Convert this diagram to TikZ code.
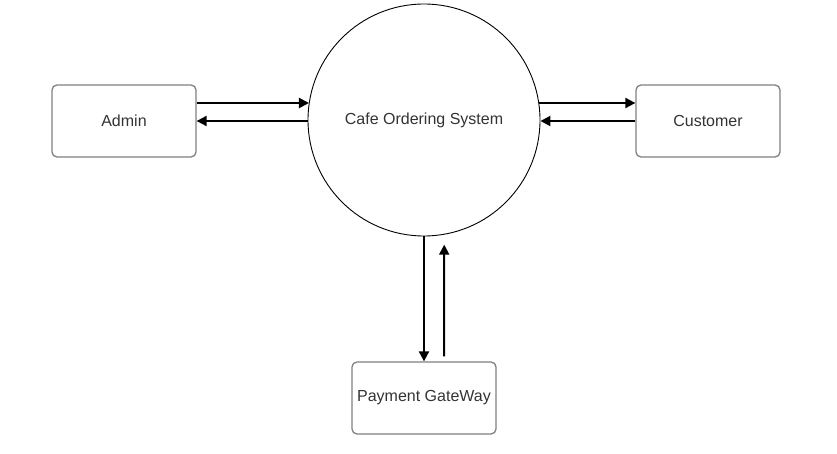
\documentclass[tikz,border=0pt]{standalone}
\usepackage{fontspec}
\setmainfont{Liberation Sans}
\usetikzlibrary{arrows.meta}
\definecolor{boxgray}{RGB}{128,128,128}
\definecolor{txtgray}{RGB}{51,51,51}

\begin{document}
\begin{tikzpicture}[x=1pt, y=1pt,
  entity/.style={draw=boxgray, line width=1.3pt, rounded corners=5pt, minimum width=144pt, minimum height=72pt, text=txtgray, font=\fontsize{16}{19}\selectfont},
  proc/.style={circle, draw=black, line width=0.9pt, minimum size=232pt, inner sep=0pt, text=txtgray, font=\fontsize{16}{19}\selectfont},
  flow/.style={line width=2pt, -{Triangle[length=10pt, width=10pt]}}]

\useasboundingbox (0,0) rectangle (837,453);

% Process
\node[proc] (sys) at (424,333) {Cafe Ordering System};

% Entities
\node[entity] (admin) at (124,332) {Admin};
\node[entity] (customer) at (708,332) {Customer};
\node[entity] (payment) at (424,55) {Payment GateWay};

% Admin flows
\draw[flow] ([yshift=18pt]admin.east) -- ([yshift=18pt]admin.east -| sys.171.6);
\draw[flow] (sys.west |- admin.east) -- (admin.east);

% Customer flows
\draw[flow] ([yshift=18pt]customer.west -| sys.8.4) -- ([yshift=18pt]customer.west);
\draw[flow] (customer.west) -- (sys.east |- customer.west);

% Payment flows
\draw[flow] (sys.south) -- (payment.north);
\draw[flow, shorten <=5pt, shorten >=10pt] ([xshift=20pt]payment.north) -- (sys.-80.07);

\end{tikzpicture}
\end{document}
